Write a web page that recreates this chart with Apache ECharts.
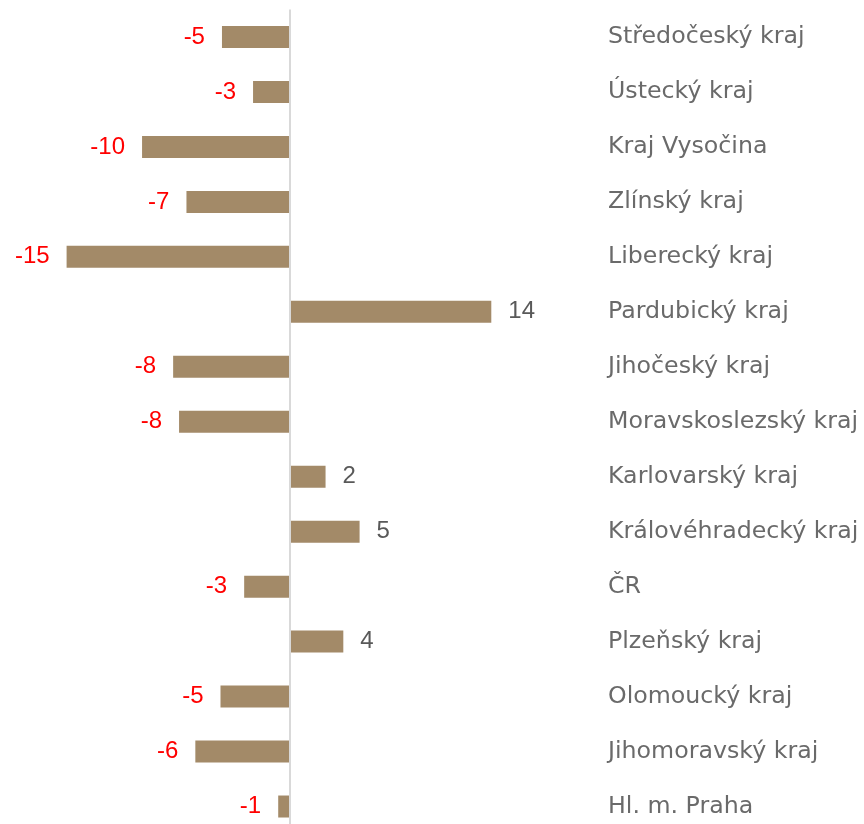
<!DOCTYPE html>
<html><head><meta charset="utf-8">
<script src="https://cdn.jsdelivr.net/npm/echarts@6/dist/echarts.min.js"></script>
<style>html,body{margin:0;padding:0;background:#fff;overflow:hidden}#c{width:864px;height:834px}</style>
</head><body><div id="c"></div>
<script>
const categories = ["Středočeský kraj","Ústecký kraj","Kraj Vysočina","Zlínský kraj","Liberecký kraj","Pardubický kraj","Jihočeský kraj","Moravskoslezský kraj","Karlovarský kraj","Královéhradecký kraj","ČR","Plzeňský kraj","Olomoucký kraj","Jihomoravský kraj","Hl. m. Praha"];
const values = [-4.6,-2.5,-10.0,-7.0,-15.1,13.6,-7.9,-7.5,2.4,4.7,-3.1,3.6,-4.7,-6.4,-0.8];

const chart = echarts.init(document.getElementById('c'), null, {renderer:'canvas'});
const data = values.map(v => ({
  value: v,
  label: { position: v < 0 ? 'left' : 'right', color: v < 0 ? '#FF0000' : '#595959' }
}));
chart.setOption({
  animation: false,
  grid: { left: 0, right: 274, top: 9.5, bottom: 0, containLabel: false },
  xAxis: { type: 'value', min: -19.6, max: 20.27, show: false, splitLine: {show:false} },
  yAxis: {
    type: 'category', data: categories, inverse: true, position: 'right',
    axisLine: {show:false}, axisTick: {show:false},
    axisLabel: { margin: 18, align: 'left', color: '#6A6A6A', fontSize: 23.7, fontFamily: 'DejaVu Sans' }
  },
  series: [{
    type: 'bar', data: data, barWidth: 22,
    itemStyle: { color: '#A38A68' },
    label: { show: true, distance: 17, fontSize: 24, fontFamily: 'Liberation Sans',
      formatter: p => Number(p.value).toFixed(0) },
    markLine: { silent: true, symbol: 'none', label: {show:false},
      lineStyle: { color: '#D9D9D9', width: 2, type: 'solid' },
      data: [{ xAxis: 0 }] }
  }]
});
</script></body></html>
